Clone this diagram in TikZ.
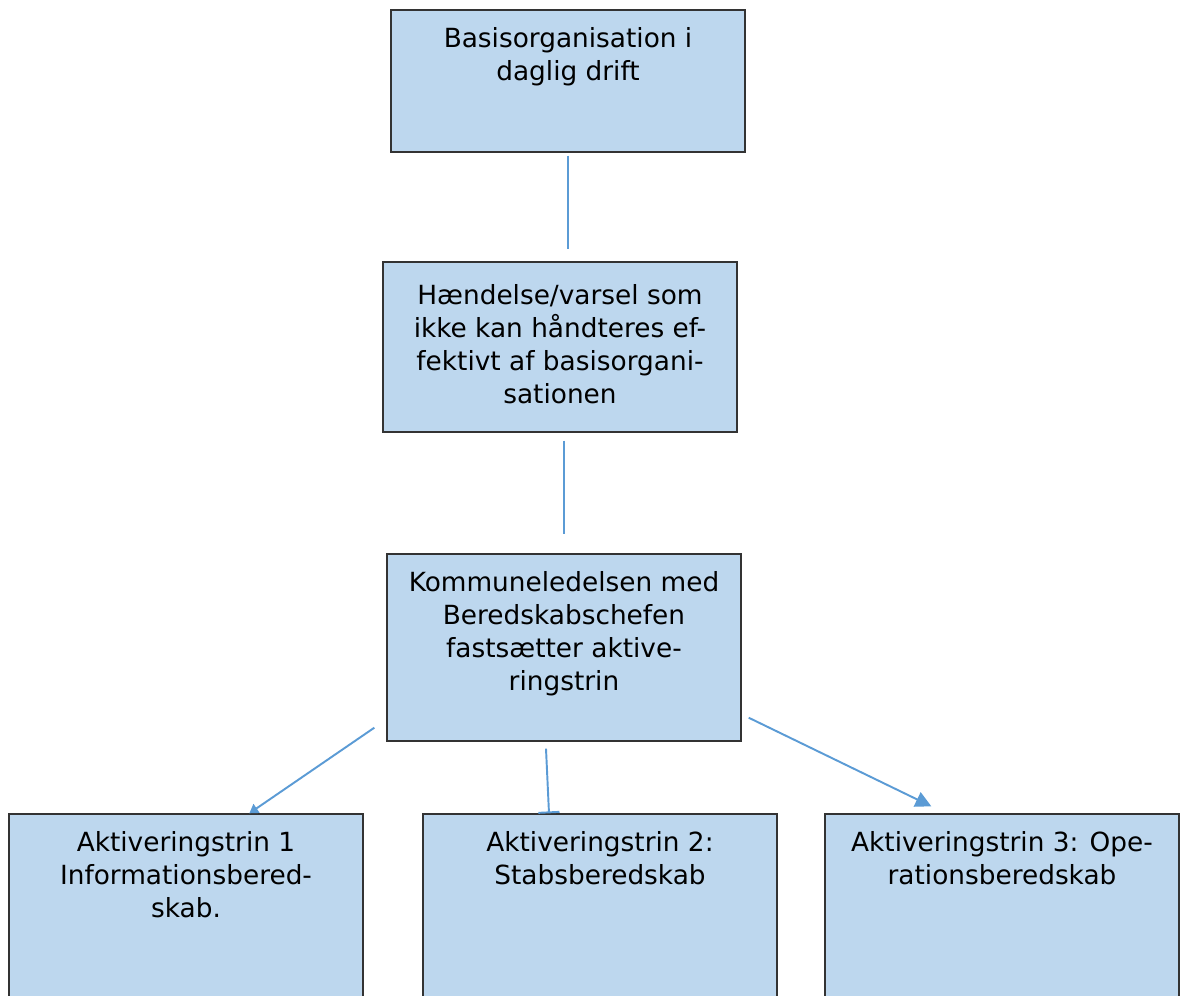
\documentclass[tikz,border=0pt]{standalone}
\usepackage{fontspec}
\setmainfont{DejaVu Sans}
\usetikzlibrary{arrows.meta,calc}
\definecolor{boxfill}{HTML}{BDD7EE}
\definecolor{linkblue}{HTML}{5B9BD5}
\tikzset{box/.style = {draw=black!80, fill=boxfill, line width=0.8pt, rectangle, minimum width=7.08cm, inner sep=0pt},
         lbl/.style = {anchor=north, inner sep=0pt, align=center, font=\fontsize{15pt}{18.8pt}\selectfont},
         link/.style = {draw=linkblue, line width=1.1pt}}
\begin{document}
\begin{tikzpicture}[x=0.02cm,y=-0.02cm]
    \clip (0,0) rectangle (1181,995);
    \node[box, minimum height=2.84cm](box1)at(568,81){};
    \node[box, minimum height=3.40cm](box2)at(560,347){};
    \node[box, minimum height=3.74cm](box3)at(564,647.5){};
    \node[box, minimum height=3.82cm](box4)at(186,909.5){};
    \node[box, minimum height=3.82cm](box5)at(600,909.5){};
    \node[box, minimum height=3.82cm](box6)at(1002,909.5){};
    % texts
    \node[lbl](t1)at([yshift=-0.36cm]box1.north){Basisorganisation i\\daglig drift};
    \node[lbl](t2)at([yshift=-0.46cm]box2.north){Hændelse/varsel som\\ikke kan håndteres ef-\\fektivt af basisorgani-\\sationen};
    \node[lbl](t3)at([yshift=-0.36cm]box3.north){Kommuneledelsen med\\Beredskabschefen\\fastsætter aktive-\\ringstrin};
    \node[lbl](t4)at([yshift=-0.36cm]box4.north){Aktiveringstrin 1\\Informationsbered-\\skab.};
    \node[lbl](t5)at([yshift=-0.36cm]box5.north){Aktiveringstrin 2:\\Stabsberedskab};
    \node[lbl](t6)at([yshift=-0.36cm]box6.north){Aktiveringstrin 3: Ope-\\rationsberedskab};
    % links
    \draw[link, shorten <=0.06cm, shorten >=0.24cm](box1.south)--(box1.south |- box2.north);
    \draw[link, shorten <=0.16cm, shorten >=0.38cm](box3.north |- box2.south)--(box3.north);
    \draw[link, -{Triangle[length=5pt, width=6pt]}]($(box3.south west)+(-12,-14)$)--($(box4.north west)+(241,0)$);
    \draw[link, -{Bar[width=12pt]}]($(box3.south)+(-18,7)$)--($(box5.north)+(-51,0)$);
    \draw[link, -{Triangle[length=9pt, width=9pt]}]($(box3.south east)+(7,-24)$)--($(box6.north west)+(107,-7)$);
\end{tikzpicture}
\end{document}
